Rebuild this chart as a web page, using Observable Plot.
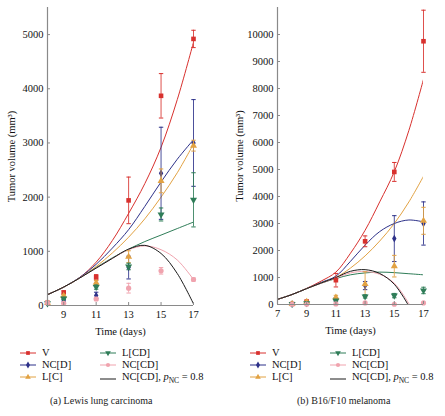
<!DOCTYPE html>
<html><head><meta charset="utf-8">
<script src="https://cdn.jsdelivr.net/npm/d3@7"></script>
<script src="https://cdn.jsdelivr.net/npm/@observablehq/plot@0.6"></script>
<style>
body{margin:0;background:#fff;font-family:"Liberation Serif","DejaVu Serif",serif;}
#root{position:relative;width:445px;height:416px;overflow:hidden;}
.pan{position:absolute;top:0;}
.leg{position:absolute;font-size:10.5px;color:#111;white-space:nowrap;line-height:12px;display:flex;align-items:center;}
.leg svg{margin-right:6px;}
.cap{position:absolute;font-size:10px;color:#222;white-space:nowrap;}
</style>
</head><body>
<div id="root"></div>
<script>
// ---------- data ----------
const seriesNames = ["V", "NC[D]", "L[C]", "L[CD]", "NC[CD]"];
const seriesColors = ["#d8312e", "#2d3189", "#e2a243", "#2f7d58", "#f0a3ae"];
const seriesSymbols = ["square", "diamond", "triangle", "triangle", "circle"];
const seriesRotate = [0, 0, 0, 180, 0];
const fitColor = "#1a1a1a";
const fitName = "NC[CD], ";

const days = [8, 9, 11, 13, 15, 17];

// Lewis lung carcinoma: measured means and error half-widths
const lewisV = [50, 240, 520, 1940, 3870, 4920];
const lewisNCD = [40, 100, 185, 700, 2440, 3000];
const lewisLC = [50, 180, 420, 900, 2300, 2950];
const lewisLCD = [40, 130, 340, 720, 1680, 1950];
const lewisNCCD = [50, 40, 120, 320, 640, 480];
const lewisErrV = [0, 30, 50, 430, 410, 160];
const lewisErrNCD = [0, 20, 60, 210, 850, 800];
const lewisErrLC = [0, 20, 40, 110, 220, 100];
const lewisErrLCD = [0, 20, 40, 60, 120, 500];
const lewisErrNCCD = [0, 10, 30, 90, 60, 30];

// Lewis model curves
const lewisCurveDays = [8, 9, 10, 11, 12, 13, 14, 15, 16, 17];
const lewisFitV = [200, 340, 520, 800, 1200, 1700, 2250, 2920, 3800, 4860];
const lewisFitNCD = [200, 340, 520, 760, 1060, 1400, 1830, 2280, 2700, 3060];
const lewisFitLC = [200, 340, 510, 720, 970, 1260, 1600, 2000, 2450, 2980];
const lewisFitLCD = [200, 340, 510, 700, 880, 1040, 1180, 1300, 1420, 1540];
const lewisFitNCCD = [200, 340, 510, 690, 870, 1030, 1100, 1030, 840, 480];
const lewisFitP08 = [200, 340, 510, 690, 870, 1040, 1110, 960, 590, 30];

// B16/F10 melanoma: measured means and error half-widths
const melV = [20, 110, 900, 2340, 4910, 9750];
const melNCD = [20, 60, 200, 700, 2440, 3000];
const melLC = [20, 100, 260, 760, 1420, 3100];
const melLCD = [20, 50, 150, 300, 330, 520];
const melNCCD = [10, 10, 20, 60, 10, 60];
const melErrV = [0, 30, 250, 200, 350, 1150];
const melErrNCD = [0, 20, 60, 150, 850, 800];
const melErrLC = [0, 20, 80, 450, 400, 500];
const melErrLCD = [0, 10, 30, 60, 80, 120];
const melErrNCCD = [0, 0, 0, 0, 0, 0];

// Melanoma model curves
const melCurveDays = [7, 8, 9, 10, 11, 12, 13, 14, 15, 16, 17];
const melFitV = [190, 370, 600, 870, 1200, 1900, 2750, 3800, 4920, 6450, 8340];
const melFitNCD = [190, 370, 590, 820, 1050, 1600, 2200, 2700, 3000, 3130, 3060];
const melFitLC = [190, 370, 590, 800, 1000, 1350, 1800, 2350, 3000, 3800, 4750];
const melFitLCD = [190, 370, 590, 790, 960, 1100, 1170, 1200, 1180, 1140, 1100];
const melFitNCCD = [190, 370, 590, 790, 980, 1170, 1220, 1120, 790, 30, null];
const melFitP08 = [190, 370, 590, 800, 1000, 1230, 1290, 1150, 750, -60, null];

const lewisXTicks = [9, 11, 13, 15, 17];
const lewisYTicks = [0, 1000, 2000, 3000, 4000, 5000];
const melXTicks = [7, 9, 11, 13, 15, 17];
const melYTicks = [0, 1000, 2000, 3000, 4000, 5000, 6000, 7000, 8000, 9000, 10000];

// ---------- helpers ----------
const capSymbol = {draw(ctx) { ctx.moveTo(-2.2, 0); ctx.lineTo(2.2, 0); }};
const axisGray = "#8a8a8a";

function points(means, errs) {
  return days.map((d, i) => ({day: d, v: means[i], lo: means[i] - errs[i], hi: means[i] + errs[i], e: errs[i]}));
}
function curve(cd, vals) {
  return cd.map((d, i) => ({day: d, v: vals[i]})).filter(r => r.v != null);
}

function panel(o) {
  const innerW = o.width - o.ml - o.mr;
  const innerH = o.height - o.mt - o.mb;
  const marks = [];
  // curves
  o.fits.forEach((f, i) => {
    marks.push(Plot.line(curve(o.curveDays, f), {x: "day", y: "v", stroke: i < 5 ? seriesColors[i] : fitColor, strokeWidth: 1, curve: "catmull-rom", clip: true}));
  });
  // error bars + markers
  o.sets.forEach((s, i) => {
    const data = points(s[0], s[1]);
    const eb = data.filter(r => r.e > 0);
    marks.push(Plot.ruleX(eb, {x: "day", y1: "lo", y2: "hi", stroke: seriesColors[i], strokeWidth: 1, strokeOpacity: 0.85}));
    marks.push(Plot.dot(eb, {x: "day", y: "lo", symbol: capSymbol, stroke: seriesColors[i], strokeWidth: 1, r: 2, fill: "none"}));
    marks.push(Plot.dot(eb, {x: "day", y: "hi", symbol: capSymbol, stroke: seriesColors[i], strokeWidth: 1, r: 2, fill: "none"}));
    marks.push(Plot.dot(data, {x: "day", y: "v", symbol: seriesSymbols[i], rotate: seriesRotate[i], fill: seriesColors[i], r: seriesSymbols[i] === "diamond" ? 2.3 : 2.6, stroke: "none"}));
  });
  // axes
  marks.push(Plot.ruleX([o.xDomain[0]], {stroke: axisGray, strokeWidth: 1.2}));
  marks.push(Plot.ruleY([0], {stroke: axisGray, strokeWidth: 1.2}));
  marks.push(Plot.ruleX(o.xTicks, {x: d => d, stroke: axisGray, insetTop: innerH - 3}));
  marks.push(Plot.ruleY(o.yTicks, {y: d => d, stroke: axisGray, insetRight: innerW - 3}));
  marks.push(Plot.axisX(o.xTicks, {tickSize: 0, tickPadding: 5, tickFormat: d => String(d), fontSize: 10.5, label: "Time (days)", labelAnchor: "center", labelOffset: 29, labelArrow: "none"}));
  marks.push(Plot.axisY(o.yTicks, {tickSize: 0, tickPadding: 4, tickFormat: d => String(d), fontSize: 10.5, label: "Tumor volume (mm³)", labelAnchor: "center", labelOffset: o.labelOffset, labelArrow: "none"}));
  return Plot.plot({
    width: o.width, height: o.height,
    marginLeft: o.ml, marginRight: o.mr, marginTop: o.mt, marginBottom: o.mb,
    style: {fontFamily: '"Liberation Serif", serif', fontSize: "10.5px", color: "#111", background: "white"},
    x: {domain: o.xDomain},
    y: {domain: o.yDomain},
    marks
  });
}

const root = document.getElementById("root");

const left = panel({
  width: 223, height: 340, ml: 47, mr: 30, mt: 7, mb: 35, labelOffset: 40,
  xDomain: [8, 17], yDomain: [0, 5500], xTicks: lewisXTicks, yTicks: lewisYTicks,
  curveDays: lewisCurveDays,
  fits: [lewisFitV, lewisFitNCD, lewisFitLC, lewisFitLCD, lewisFitNCCD, lewisFitP08],
  sets: [[lewisV, lewisErrV], [lewisNCD, lewisErrNCD], [lewisLC, lewisErrLC], [lewisLCD, lewisErrLCD], [lewisNCCD, lewisErrNCCD]]
});
const right = panel({
  width: 222, height: 340, ml: 54, mr: 22, mt: 7, mb: 36, labelOffset: 42,
  xDomain: [7, 17], yDomain: [0, 11000], xTicks: melXTicks, yTicks: melYTicks,
  curveDays: melCurveDays,
  fits: [melFitV, melFitNCD, melFitLC, melFitLCD, melFitNCCD, melFitP08],
  sets: [[melV, melErrV], [melNCD, melErrNCD], [melLC, melErrLC], [melLCD, melErrLCD], [melNCCD, melErrNCCD]]
});
const lw = document.createElement("div"); lw.className = "pan"; lw.style.left = "0px"; lw.appendChild(left); root.appendChild(lw);
const rw = document.createElement("div"); rw.className = "pan"; rw.style.left = "223px"; rw.appendChild(right); root.appendChild(rw);

// ---------- legends ----------
function legendItem(x, y, idx) {
  const d = document.createElement("div");
  d.className = "leg";
  d.style.left = x + "px"; d.style.top = (y - 6) + "px";
  const color = idx < 5 ? seriesColors[idx] : fitColor;
  const ns = "http://www.w3.org/2000/svg";
  const s = document.createElementNS(ns, "svg");
  s.setAttribute("width", 16); s.setAttribute("height", 12);
  const ln = document.createElementNS(ns, "line");
  ln.setAttribute("x1", 0); ln.setAttribute("x2", 16); ln.setAttribute("y1", 6); ln.setAttribute("y2", 6);
  ln.setAttribute("stroke", color); ln.setAttribute("stroke-width", 1);
  s.appendChild(ln);
  if (idx < 5) {
    const p = document.createElementNS(ns, "path");
    const typ = {square: d3.symbolSquare, diamond: d3.symbolDiamond, triangle: d3.symbolTriangle, circle: d3.symbolCircle}[seriesSymbols[idx]];
    p.setAttribute("d", d3.symbol(typ, 14)());
    p.setAttribute("transform", `translate(8,6) rotate(${seriesRotate[idx]})`);
    p.setAttribute("fill", color);
    s.appendChild(p);
  }
  d.appendChild(s);
  const t = document.createElement("span");
  if (idx < 5) t.textContent = seriesNames[idx];
  else t.innerHTML = fitName + '<i>p</i><sub style="font-size:7.5px">NC</sub> = 0.8';
  d.appendChild(t);
  root.appendChild(d);
}
const rowsY = [353, 365, 377];
[[20, 100], [250, 330]].forEach(([c1, c2]) => {
  legendItem(c1, rowsY[0], 0);
  legendItem(c1, rowsY[1], 1);
  legendItem(c1, rowsY[2], 2);
  legendItem(c2, rowsY[0], 3);
  legendItem(c2, rowsY[1], 4);
  legendItem(c2, rowsY[2], 5);
});
const captions = ["(a) Lewis lung carcinoma", "(b) B16/F10 melanoma"];
[[50, 0], [297, 1]].forEach(([x, i]) => {
  const c = document.createElement("div");
  c.className = "cap"; c.style.left = x + "px"; c.style.top = "395px";
  c.textContent = captions[i];
  root.appendChild(c);
});
</script>
</body></html>
